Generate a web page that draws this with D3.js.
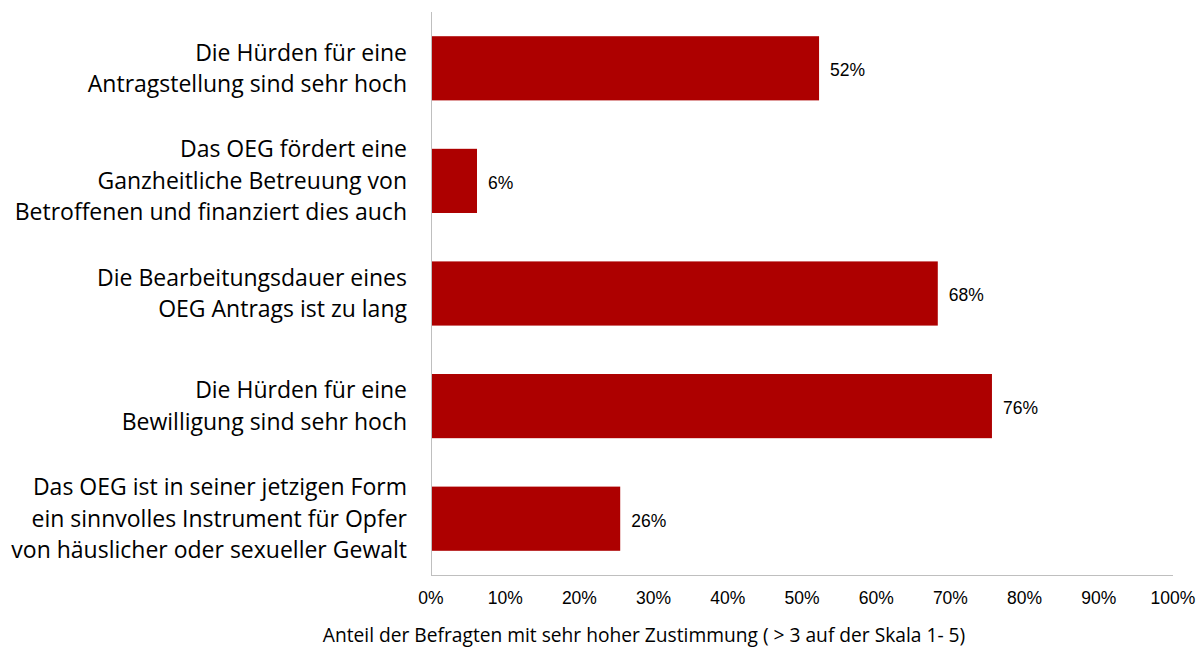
<!DOCTYPE html>
<html><head><meta charset="utf-8">
<script src="https://cdn.jsdelivr.net/npm/d3@7"></script>
<style>body{margin:0;background:#fff}</style>
</head><body>
<svg id="c" width="1204" height="647"></svg>
<script>
const categories = [
  ["Die Hürden für eine", "Antragstellung sind sehr hoch"],
  ["Das OEG fördert eine", "Ganzheitliche Betreuung von", "Betroffenen und finanziert dies auch"],
  ["Die Bearbeitungsdauer eines", "OEG Antrags ist zu lang"],
  ["Die Hürden für eine", "Bewilligung sind sehr hoch"],
  ["Das OEG ist in seiner jetzigen Form", "ein sinnvolles Instrument für Opfer", "von häuslicher oder sexueller Gewalt"]
];
const values = [0.523, 0.062, 0.683, 0.756, 0.255];
const valueLabels = ["52%", "6%", "68%", "76%", "26%"];
const ticks = [0, 0.1, 0.2, 0.3, 0.4, 0.5, 0.6, 0.7, 0.8, 0.9, 1.0];
const axisTitle = "Anteil der Befragten mit sehr hoher Zustimmung ( > 3 auf der Skala 1- 5)";

(function(){
const svg = d3.select("#c");
const pLeft = 431, pRight = 1173, pTop = 12, pBottom = 575;
const x = d3.scaleLinear().domain([0, 1]).range([pLeft, pRight]);
const y = d3.scaleBand().domain(d3.range(categories.length)).range([pTop, pBottom])
  .paddingInner(0.43).paddingOuter(0.215);

svg.selectAll("rect.bar").data(values).join("rect").attr("class","bar")
  .attr("x", x(0)).attr("y", (d,i)=>y(i)).attr("width", d=>x(d)-x(0))
  .attr("height", y.bandwidth()).attr("fill", "#ad0000");

svg.append("line").attr("x1", pLeft+0.5).attr("x2", pLeft+0.5).attr("y1", pTop).attr("y2", pBottom)
  .attr("stroke", "#bfbfbf").attr("stroke-width", 1);
svg.append("line").attr("x1", pLeft).attr("x2", pRight).attr("y1", pBottom+0.5).attr("y2", pBottom+0.5)
  .attr("stroke", "#bfbfbf").attr("stroke-width", 1);

svg.selectAll("text.tick").data(ticks).join("text").attr("class","tick")
  .attr("x", d=>x(d)).attr("y", 604).attr("text-anchor","middle")
  .attr("font-family","Liberation Sans, Arial, sans-serif").attr("font-size", 17.5).attr("fill","#000")
  .text(d=>d3.format(".0%")(d));

svg.selectAll("text.val").data(values).join("text").attr("class","val")
  .attr("x", d=>x(d)+11).attr("y", (d,i)=>y(i)+y.bandwidth()/2+7.8)
  .attr("font-family","Liberation Sans, Arial, sans-serif").attr("font-size", 17.5).attr("fill","#000")
  .text((d,i)=>valueLabels[i]);

const lh = 31.5;
categories.forEach((lines, i) => {
  const cy = y(i) + y.bandwidth()/2;
  const t = svg.append("text").attr("text-anchor","end")
    .attr("font-family","Open Sans, sans-serif").attr("font-size", 23).attr("fill","#000");
  lines.forEach((ln, j) => {
    t.append("tspan").attr("x", 407)
      .attr("y", cy + (j - (lines.length-1)/2)*lh + 8).text(ln);
  });
});

svg.append("text").attr("x", 644).attr("y", 642).attr("text-anchor","middle")
  .attr("font-family","Open Sans, sans-serif").attr("font-size", 19.2).attr("fill","#000")
  .text(axisTitle);
})();
</script>
</body></html>
